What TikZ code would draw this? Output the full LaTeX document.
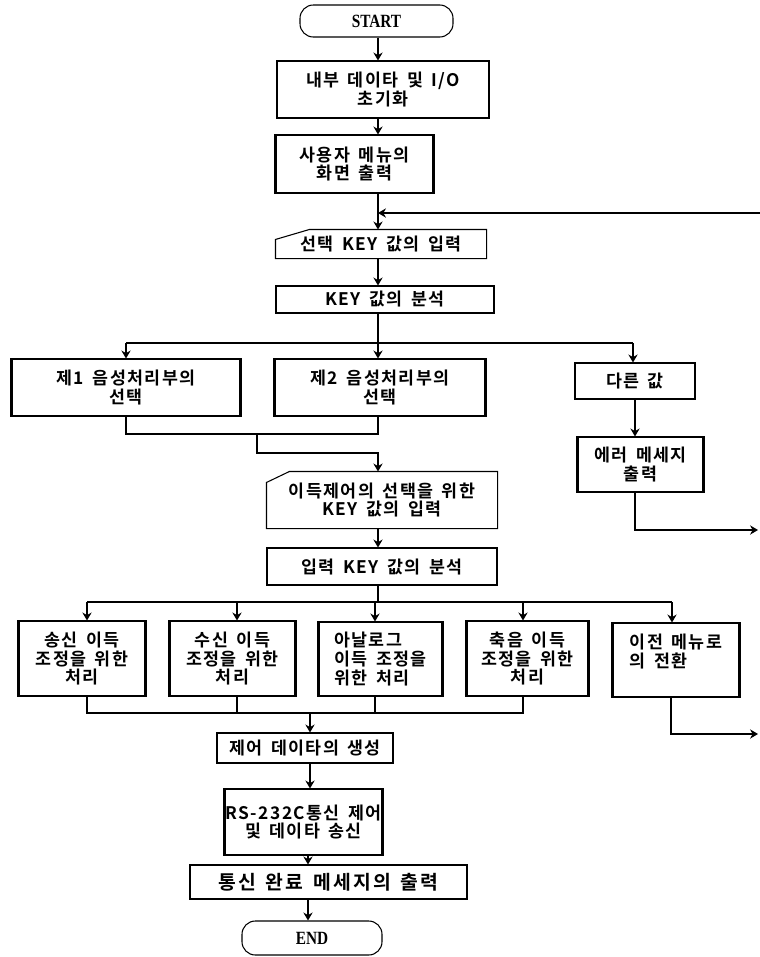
\documentclass[tikz,border=0pt]{standalone}
\usepackage{fontspec}
\setmainfont{Noto Sans CJK KR}[BoldFont=* Bold, LetterSpace=8, WordSpace=1.6]
\newfontfamily\latinfont{Liberation Serif}[FakeStretch=0.82]
\usetikzlibrary{arrows.meta,calc}
\tikzset{
  box/.style={draw, line width=0.8pt, inner sep=0pt, align=center,
    font=\bfseries\fontsize{13}{14}\selectfont},
  sz/.style 2 args={minimum width=#1*0.75pt, minimum height=#2*0.75pt},
  inbox/.style={box, draw=none},
  term/.style={box, rounded corners=10pt, font=\latinfont\bfseries\fontsize{14}{15}\selectfont},
  ln/.style={line width=0.8pt},
  arr/.style={line width=0.8pt, -{Stealth[length=6pt,width=7pt,inset=2pt]}},
  thickside/.style={line width=2.2pt},
}
\newcommand\drawsides[1]{\draw[thickside] (#1.north west) -- (#1.south west) (#1.north east) -- (#1.south east);}
\newcommand\wsp{\hspace{7pt}}
\begin{document}
\begin{tikzpicture}[x=0.75pt,y=-0.75pt]
\useasboundingbox (0,0) rectangle (760,957);
% nodes
\node[term, sz={153}{32}] (start) at (376.5,21) {START};
\node[box, sz={212}{57}] (init) at (383,89.5) {내부 데이타 및 I/O\\초기화};
\node[box, sz={157}{58}] (menu) at (354.5,164) {사용자 메뉴의\\화면 출력};
\node[inbox, sz={210}{28}] (in1) at (381,244) {선택 KEY 값의 입력};
\node[box, sz={218}{27}] (an1) at (385,299.5) {KEY 값의 분석};
\node[box, sz={228}{57}] (s1) at (126,387.5) {제1 음성처리부의\\선택};
\node[box, sz={210}{57}] (s2) at (380,387.5) {제2 음성처리부의\\선택};
\node[box, sz={120}{36}] (oth) at (635,381) {다른 값};
\node[box, sz={125}{55}] (err) at (640.5,464.5) {에러 메세지\\출력};
\node[inbox, sz={230}{56}] (in2) at (382,500) {이득제어의 선택을 위한\\KEY 값의 입력};
\node[box, sz={230}{37}] (an2) at (382,566.5) {입력 KEY 값의 분석};
\node[box, sz={126}{75}] (pa) at (82,658.5) {송신 이득\\조정을 위한\\처리};
\node[box, sz={125}{75}] (pb) at (232.5,658.5) {수신 이득\\조정을 위한\\처리};
\node[box, sz={123}{74}, align=left] (pc) at (380.5,659) {아날로그\\이득 조정을\\위한 처리};
\node[box, sz={121}{75}] (pd) at (527.5,658.5) {축음 이득\\조정을 위한\\처리};
\node[box, sz={126}{74}, align=left] (pe) at (676,660) {이전 메뉴로\\의 전환\\\mbox{}};
\node[box, sz={176}{30}] (ctl) at (305,748) {제어 데이타의 생성};
\node[box, sz={157}{66}] (rs) at (303.5,822) {RS-232C통신 제어\\및 데이타 송신};
\node[box, sz={277}{34}, font=\bfseries\fontsize{14.5}{16}\selectfont\addfontfeatures{LetterSpace=12}] (done) at (328.5,882) {통신\wsp 완료\wsp 메세지의\wsp 출력};
\node[term, sz={140}{34}] (end) at (312,938) {END};
% manual input outlines
\draw[ln] (in1.south west) -- ($(in1.north west)+(0,10)$) -- ($(in1.north west)+(34,0)$) -- (in1.north east) -- (in1.south east) -- cycle;
\draw[ln] (in2.south west) -- ($(in2.north west)+(0,11)$) -- ($(in2.north west)+(23,0)$) -- (in2.north east) -- (in2.south east) -- cycle;
% thick sides
\drawsides{menu}
\drawsides{s1}
\drawsides{s2}
\drawsides{err}
\drawsides{pa}
\drawsides{pb}
\drawsides{pc}
\drawsides{pd}
\drawsides{pe}
\drawsides{rs}
% coordinates
\coordinate (loopR) at (760,213);
\coordinate (loopJ) at (378,213);
\coordinate (errR) at (758,530);
\coordinate (peR) at (758,734);
% main column
\draw[arr] (start.south -| 378,0) -- (init.north -| 378,0);
\draw[arr] (init.south -| 378,0) -- (menu.north -| 378,0);
\draw[arr] (menu.south -| 378,0) -- (in1.north -| 378,0);
\draw[arr] (loopR) -- (loopJ);
\draw[arr] (in1.south -| 378,0) -- (an1.north -| 378,0);
% first branch
\draw[ln] (an1.south -| 378,0) -- (378,343);
\draw[arr] (126,343) -- (s1.north -| 126,0);
\draw[arr] (378,343) -- (s2.north -| 378,0);
\draw[ln] (126,343) -- (633,343);
\draw[arr] (633,343) -- (oth.north -| 633,0);
\draw[arr] (oth.south -| 635,0) -- (err.north -| 635,0);
\draw[arr] (err.south -| 635,0) |- (errR);
% join 1
\draw[ln] (s1.south -| 126,0) |- (257,434) -| (s2.south -| 378,0);
\draw[arr] (257,434) |- (378,453) -- (in2.north -| 378,0);
\draw[arr] (in2.south -| 378,0) -- (an2.north -| 378,0);
% second branch
\draw[ln] (an2.south -| 378,0) -- (378,602);
\draw[ln] (87,602) -- (672,602);
\draw[arr] (87,602) -- (pa.north -| 87,0);
\draw[arr] (237,602) -- (pb.north -| 237,0);
\draw[arr] (375,602) -- (pc.north -| 375,0);
\draw[arr] (523,602) -- (pd.north -| 523,0);
\draw[arr] (672,602) -- (pe.north -| 672,0);
\draw[arr] (pe.south -| 671,0) |- (peR);
% join 2
\draw[ln] (pa.south -| 87,0) |- (523,713) -- (pd.south -| 523,0);
\draw[ln] (pb.south -| 237,0) -- (237,713);
\draw[ln] (pc.south -| 375,0) -- (375,713);
\draw[arr] (310,713) -- (ctl.north -| 310,0);
\draw[arr] (ctl.south -| 310,0) -- (rs.north -| 310,0);
\draw[arr] (rs.south -| 308,0) -- (done.north -| 308,0);
\draw[arr] (done.south -| 308,0) -- (end.north -| 308,0);
\end{tikzpicture}
\end{document}
